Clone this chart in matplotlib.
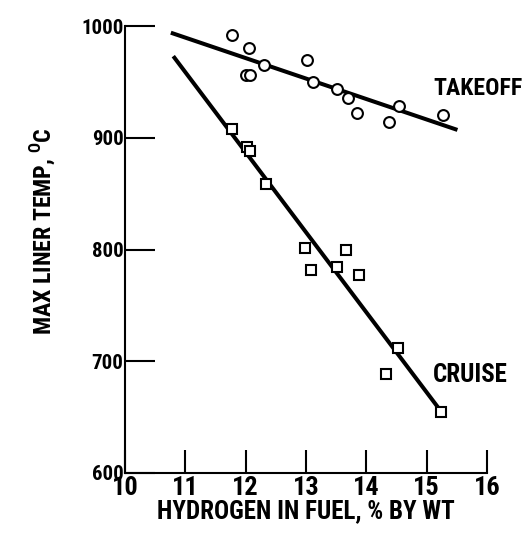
import matplotlib
matplotlib.use("Agg")
import matplotlib.pyplot as plt

# narrow bold lettering as on the original figure
FONT = ["Roboto Condensed", "PT Sans Narrow", "Liberation Sans", "DejaVu Sans"]
plt.rcParams["font.family"] = FONT
plt.rcParams["font.weight"] = "bold"
plt.rcParams["mathtext.fontset"] = "custom"
plt.rcParams["mathtext.rm"] = "Roboto Condensed:bold"

# Takeoff data (circles)
takeoff_h = [11.77, 12.05, 12.00, 12.07, 12.31, 13.01, 13.12, 13.52, 13.69, 13.85, 14.37, 14.54, 15.27]
takeoff_t = [992, 980, 956, 956, 965, 970, 950, 944, 936, 922, 914, 928, 920]
takeoff_fit_h = [10.76, 15.51]
takeoff_fit_t = [994, 907]

# Cruise data (squares)
cruise_h = [11.77, 12.02, 12.07, 12.34, 12.98, 13.09, 13.52, 13.67, 13.88, 14.33, 14.52, 15.24]
cruise_t = [908, 892, 888, 859, 801, 782, 784, 800, 777, 689, 712, 655]
cruise_fit_h = [10.80, 15.24]
cruise_fit_t = [973, 655]

x_ticks = [10, 11, 12, 13, 14, 15, 16]
y_ticks = [600, 700, 800, 900, 1000]

fig = plt.figure(figsize=(5.24, 5.42), dpi=100)
ax = fig.add_axes([125 / 524, 69 / 542, 362 / 524, 447 / 542])

ax.plot(takeoff_fit_h, takeoff_fit_t, color="black", lw=2.9, solid_capstyle="butt")
ax.plot(cruise_fit_h, cruise_fit_t, color="black", lw=2.9, solid_capstyle="butt")
ax.plot(takeoff_h, takeoff_t, "o", ms=7.8, mfc="white", mec="black", mew=1.5)
ax.plot(cruise_h, cruise_t, "s", ms=7.0, mfc="white", mec="black", mew=1.5)

ax.set_xlim(10, 16)
ax.set_ylim(600, 1000)
ax.spines["top"].set_visible(False)
ax.spines["right"].set_visible(False)
ax.spines["left"].set_linewidth(1.5)
ax.spines["bottom"].set_linewidth(1.5)

ax.set_xticks(x_ticks)
ax.set_yticks(y_ticks)
ax.tick_params(axis="x", direction="in", length=16.5, width=1.5, pad=2, labelsize=19)
ax.tick_params(axis="y", direction="in", length=21.5, width=1.5, pad=1, labelsize=15)
for lab in ax.get_xticklabels() + ax.get_yticklabels():
    lab.set_fontweight("bold")

t1 = ax.text(15.105, 944, "TAKEOFF", fontsize=17, fontweight="bold", ha="left", va="center")
t2 = ax.text(15.105, 688, "CRUISE", fontsize=17, fontweight="bold", ha="left", va="center")

xl = fig.text(306 / 524, 31 / 542, "HYDROGEN IN FUEL, % BY WT", fontsize=16, fontweight="bold",
              ha="center", va="center")
yl = fig.text(43 / 524, 311 / 542, "MAX LINER TEMP, $^{\\mathrm{O}}$C", fontsize=16,
              fontweight="bold", ha="center", va="center", rotation=90)

# scale the free texts so their length matches the original lettering
fig.canvas.draw()
r = fig.canvas.get_renderer()
for t, target, horiz in [(t1, 89, True), (t2, 75, True), (xl, 298, True), (yl, 208, False)]:
    bb = t.get_window_extent(r)
    size = bb.width if horiz else bb.height
    t.set_fontsize(t.get_fontsize() * target / size)

fig.savefig("out.png", dpi=100)
